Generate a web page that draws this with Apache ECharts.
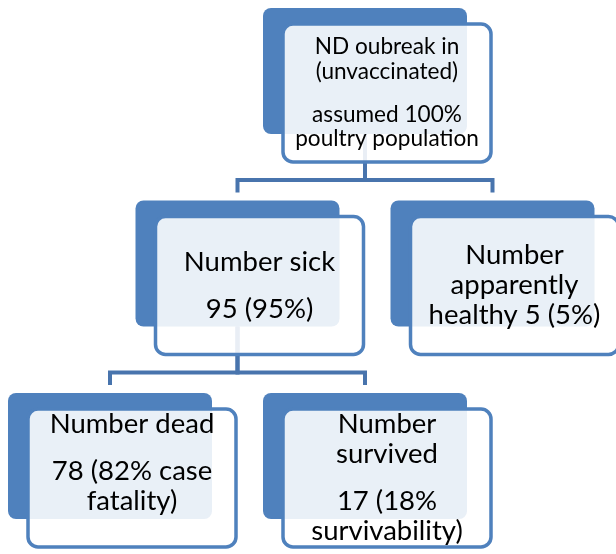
<!DOCTYPE html>
<html><head><meta charset="utf-8">
<script src="https://cdn.jsdelivr.net/npm/echarts@6/dist/echarts.min.js"></script>
<style>html,body{margin:0;padding:0;background:#fff}#c{width:616px;height:554px}</style>
</head><body><div id="c"></div>
<script>
// ---- data ----
const nodeNames = ['outbreak', 'sick', 'healthy', 'dead', 'survived'];
const nodeParents = [-1, 0, 0, 1, 1];
const nodeCounts = [100, 95, 5, 78, 17];
// each label: list of paragraphs, each paragraph a list of lines
const nodeLabels = [
  [['ND oubreak in', '(unvaccinated)'], ['assumed 100%', 'poultry population']],
  [['Number sick'], ['95 (95%)']],
  [['Number', 'apparently', 'healthy 5 (5%)']],
  [['Number dead'], ['78 (82% case', 'fatality)', '']],
  [['Number', 'survived'], ['17 (18%', 'survivability)']]
];

// ---- tree layout (slot = horizontal sibling units, level = depth) ----
const level = [], slot = [];
nodeParents.forEach((p, i) => { level[i] = p < 0 ? 0 : level[p] + 1; });
nodeParents.forEach((p, i) => {
  if (p < 0) { slot[i] = 0; return; }
  const sibs = nodeParents.map((q, j) => q === p ? j : -1).filter(j => j >= 0);
  const k = sibs.indexOf(i);
  slot[i] = slot[p] + (k - (sibs.length - 1) / 2);
});

// ---- styles ----
const SLOT_PX = 255, LEVEL_PX = 192.5, ROOT_X = 365, TOP_Y = 8;
const BACK_W = 204, BACK_H = 126, FRONT_DX = 20, FRONT_DY = 16, FRONT_W = 208, FRONT_H = 138;
const BLUE = '#4f81bd', LINE = '#4874ad';
const FONT = 'Lato, "Open Sans", sans-serif';

const nodeData = nodeNames.map((n, i) => [slot[i], level[i], i]);
const linkData = [];
nodeParents.forEach((p, i) => { if (p >= 0) linkData.push([slot[i], level[i], slot[p], level[p]]); });

function renderLink(params, api) {
  const c = api.coord([api.value(0), api.value(1)]);
  const p = api.coord([api.value(2), api.value(3)]);
  const barY = p[1] + 172;
  return {
    type: 'polyline',
    shape: { points: [[p[0], p[1] + BACK_H], [p[0], barY], [c[0], barY], [c[0], c[1] - 8]] },
    style: { stroke: LINE, lineWidth: 4, fill: null, lineJoin: 'miter', lineCap: 'butt' }
  };
}

function renderNode(params, api) {
  const a = api.coord([api.value(0), api.value(1)]);
  const idx = api.value(2);
  const bx = a[0] - BACK_W / 2, by = a[1];
  const fx = bx + FRONT_DX, fy = by + FRONT_DY;
  const isRoot = level[idx] === 0;
  const fs = isRoot ? 22.6 : 27.5;
  const lh = isRoot ? 24.5 : 30;
  const ps = isRoot ? 43 : 47;
  const pos = [], txt = [];
  let y = 0, first = true;
  nodeLabels[idx].forEach(par => par.forEach((line, li) => {
    if (!first) y += (li === 0 ? ps : lh);
    first = false;
    pos.push(y); txt.push(line);
  }));
  const cy = fy + FRONT_H / 2, cx = fx + FRONT_W / 2;
  const off = cy - (pos[0] + pos[pos.length - 1]) / 2;
  const children = [
    { type: 'rect', shape: { x: bx, y: by, width: BACK_W, height: BACK_H, r: 8 }, style: { fill: BLUE } },
    { type: 'rect', shape: { x: fx, y: fy, width: FRONT_W, height: FRONT_H, r: 10 },
      style: { fill: 'rgba(255,255,255,0.88)', stroke: BLUE, lineWidth: 3.5 } }
  ];
  txt.forEach((t, k) => {
    if (!t) return;
    children.push({ type: 'text', style: {
      text: t, x: cx, y: pos[k] + off, align: 'center', verticalAlign: 'middle',
      textAlign: 'center', textVerticalAlign: 'middle',
      font: fs + 'px ' + FONT, fill: '#000' } });
  });
  return { type: 'group', children };
}

const chart = echarts.init(document.getElementById('c'));
chart.setOption({
  animation: false,
  grid: { left: 0, right: 0, top: 0, bottom: 0 },
  xAxis: { type: 'value', show: false, min: -ROOT_X / SLOT_PX, max: (616 - ROOT_X) / SLOT_PX },
  yAxis: { type: 'value', show: false, inverse: true, min: -TOP_Y / LEVEL_PX, max: (554 - TOP_Y) / LEVEL_PX },
  series: [
    { type: 'custom', renderItem: renderLink, data: linkData, clip: false, z: 1, silent: true },
    { type: 'custom', renderItem: renderNode, data: nodeData, clip: false, z: 2, silent: true }
  ]
});
</script>
</body></html>
